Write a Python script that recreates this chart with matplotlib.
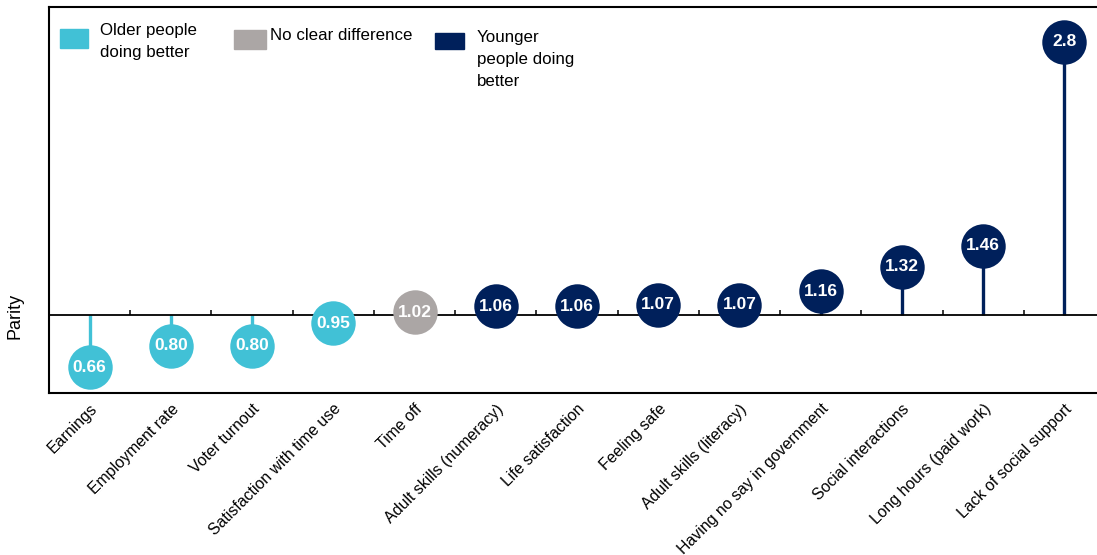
import numpy as np
import matplotlib
matplotlib.use("Agg")
import matplotlib.pyplot as plt
from matplotlib.patches import Rectangle

plt.rcParams['font.family'] = ['Liberation Sans', 'DejaVu Sans']

# data
categories = ['Earnings', 'Employment rate', 'Voter turnout', 'Satisfaction with time use',
              'Time off', 'Adult skills (numeracy)', 'Life satisfaction', 'Feeling safe',
              'Adult skills (literacy)', 'Having no say in government', 'Social interactions',
              'Long hours (paid work)', 'Lack of social support']
values = [0.66, 0.80, 0.80, 0.95, 1.02, 1.06, 1.06, 1.07, 1.07, 1.16, 1.32, 1.46, 2.8]
value_labels = ['0.66', '0.80', '0.80', '0.95', '1.02', '1.06', '1.06', '1.07', '1.07',
                '1.16', '1.32', '1.46', '2.8']
groups = ['older', 'older', 'older', 'older', 'none', 'younger', 'younger', 'younger',
          'younger', 'younger', 'younger', 'younger', 'younger']

colors = {'older': '#41C1D6', 'none': '#ABA6A5', 'younger': '#00205B'}
parity = 1.0

fig = plt.figure(figsize=(10.97, 5.55), dpi=100)
# axes runs a little past the right edge, as in the original
ax = fig.add_axes([49/1097, 1-393/555, 1056/1097, 386/555])

x = np.arange(len(categories))
for xi, v, g, lab in zip(x, values, groups, value_labels):
    c = colors[g]
    ax.plot([xi, xi], [parity, v], color=c, lw=2.4, zorder=2, solid_capstyle='butt')
    ax.plot(xi, v, 'o', ms=32, color=c, mec='none', zorder=4)
    ax.text(xi, v, lab, ha='center', va='center', color='white', fontsize=12.5,
            fontweight='bold', zorder=5)

# parity line with small tick marks between categories
ax.axhline(parity, color='black', lw=1.3, zorder=3)
bounds = x[:-1] + 0.5
ax.vlines(bounds, parity, parity + 0.035, color='black', lw=1.1, zorder=3)

ax.set_xlim(-0.5, len(categories) - 0.5)
ax.set_ylim(0.49, 3.03)

ax.set_xticks(x)
ax.set_xticklabels(categories, rotation=45, ha='right', rotation_mode='anchor', fontsize=11.4)
ax.tick_params(axis='x', length=0, pad=6)
ax.set_yticks([parity])
ax.set_yticklabels(['Parity'], rotation=90, va='center', fontsize=13)
ax.tick_params(axis='y', length=0, pad=18)

for s in ['left', 'top', 'bottom']:
    ax.spines[s].set_linewidth(1.5)
ax.spines['right'].set_visible(False)

# legend drawn by hand so the swatch lines up with the first text line
leg_items = [('older', 'Older people\ndoing better', 60, 29, 28, 19, 100, 23),
             ('none', 'No clear difference', 234, 30, 32, 19, 270, 28),
             ('younger', 'Younger\npeople doing\nbetter', 435, 33, 29, 16, 477, 30)]
for g, txt, rx, ry, rw, rh, tx, ty in leg_items:
    fig.patches.append(Rectangle((rx/1097, 1-(ry+rh)/555), rw/1097, rh/555,
                                 transform=fig.transFigure, color=colors[g]))
    fig.text(tx/1097, 1-ty/555, txt, ha='left', va='top', fontsize=12.2, linespacing=1.6)

fig.savefig('out.png', dpi=100)
